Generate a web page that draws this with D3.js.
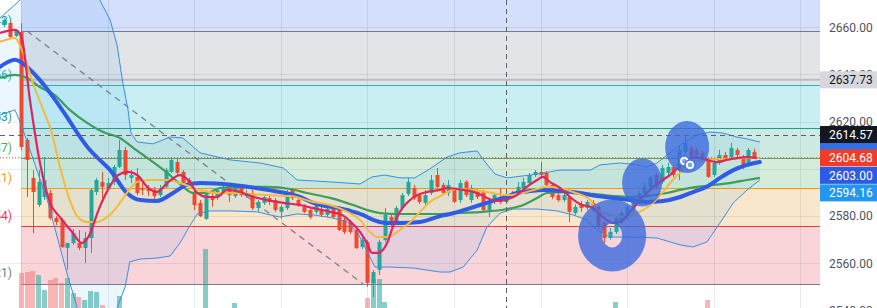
<!DOCTYPE html>
<html><head><meta charset="utf-8">
<script src="https://cdn.jsdelivr.net/npm/d3@7"></script>
<style>html,body{margin:0;padding:0;background:#fff;overflow:hidden}text{font-family:Roboto,"Liberation Sans",sans-serif}</style>
</head><body><svg id="c" width="877" height="308"></svg>
<script>
// ---------- DATA ----------
// candles: [open, high, low, close], one per bar index
const candles = [
[2661.0,2663.9,2660.1,2663.1],[2661.8,2662.3,2655.5,2655.9],[2656.3,2659.3,2655.9,2658.9],[2658.0,2661.8,2608.0,2609.3],
[2612.2,2613.1,2588.1,2603.8],[2596.2,2599.5,2572.8,2590.2],[2584.7,2599.5,2583.9,2594.5],[2588.1,2605.0,2586.8,2595.3],
[2589.8,2591.1,2578.4,2579.2],[2579.2,2580.0,2576.2,2577.5],[2578.4,2579.2,2566.5,2566.9],[2566.5,2568.6,2557.2,2568.6],
[2568.6,2574.5,2567.8,2572.8],[2568.6,2574.1,2565.6,2566.5],[2566.5,2573.3,2560.1,2570.7],[2570.7,2591.9,2564.4,2591.1],
[2590.2,2596.2,2588.9,2595.3],[2594.5,2598.7,2587.7,2592.4],[2591.9,2596.2,2591.1,2594.0],[2594.5,2601.7,2593.2,2600.8],
[2600.8,2612.2,2600.4,2608.0],[2608.0,2609.3,2595.3,2597.4],[2596.2,2599.5,2594.0,2597.4],[2596.6,2600.4,2588.9,2589.8],
[2591.9,2594.0,2588.9,2591.1],[2591.5,2593.2,2588.5,2590.6],[2591.1,2592.4,2585.6,2588.5],[2588.9,2593.2,2588.1,2591.5],
[2592.4,2600.4,2591.9,2599.5],[2598.7,2605.0,2598.3,2603.8],[2602.9,2604.6,2597.4,2598.3],[2598.7,2599.5,2593.2,2594.0],
[2595.3,2596.2,2593.2,2594.0],[2590.2,2591.1,2582.6,2584.7],[2585.6,2586.8,2579.6,2580.0],[2578.8,2591.1,2578.4,2589.8],
[2588.1,2590.2,2583.9,2586.8],[2588.1,2591.9,2586.8,2591.1],[2590.2,2593.6,2589.4,2592.4],[2592.8,2593.6,2586.0,2588.9],
[2588.5,2593.2,2587.7,2592.4],[2592.4,2593.2,2588.1,2588.9],[2588.5,2591.1,2587.7,2589.8],[2589.8,2591.1,2582.6,2583.4],
[2583.4,2586.8,2581.8,2586.0],[2585.6,2588.9,2584.7,2588.1],[2587.7,2588.5,2584.7,2586.0],[2586.8,2587.7,2581.8,2582.6],
[2581.8,2584.7,2578.8,2583.9],[2583.4,2591.1,2582.6,2589.8],[2591.1,2591.9,2586.8,2587.7],[2586.8,2587.7,2583.9,2584.7],
[2583.9,2585.1,2581.3,2581.8],[2582.6,2583.4,2578.8,2579.6],[2581.8,2585.6,2580.9,2584.7],[2582.6,2583.9,2579.6,2580.5],
[2580.5,2583.9,2579.6,2583.0],[2583.4,2584.3,2578.8,2579.6],[2583.4,2584.3,2573.7,2574.1],[2578.4,2579.2,2572.4,2573.3],
[2577.5,2578.4,2572.4,2573.3],[2574.1,2575.0,2566.1,2566.5],[2566.9,2571.1,2566.1,2569.9],[2569.0,2569.9,2550.0,2551.7],
[2551.7,2557.2,2545.7,2556.3],[2557.2,2569.9,2555.0,2569.0],[2569.9,2583.4,2569.0,2580.5],[2579.6,2580.9,2575.8,2577.1],
[2577.5,2584.3,2576.7,2583.4],[2583.4,2589.8,2582.6,2588.9],[2589.4,2596.2,2588.5,2594.5],[2591.9,2593.2,2586.8,2587.7],
[2588.9,2589.8,2585.1,2586.0],[2585.6,2591.1,2584.7,2588.9],[2589.8,2597.4,2588.9,2595.3],[2597.4,2600.4,2591.5,2592.4],
[2593.2,2594.0,2588.9,2589.8],[2589.8,2595.3,2588.5,2593.2],[2591.1,2591.9,2585.6,2586.0],[2586.8,2595.3,2585.6,2594.0],
[2594.5,2595.3,2588.1,2588.9],[2586.8,2593.2,2585.6,2591.9],[2590.2,2591.5,2587.2,2588.1],[2590.2,2591.1,2581.3,2582.6],
[2582.6,2586.4,2579.6,2585.6],[2586.0,2589.8,2585.1,2588.9],[2588.1,2591.9,2585.1,2586.0],[2586.0,2589.8,2585.1,2588.9],
[2589.8,2590.6,2587.7,2588.5],[2589.8,2594.5,2588.9,2592.4],[2591.9,2596.2,2591.1,2594.5],[2594.0,2598.3,2593.2,2597.4],
[2597.4,2599.5,2596.6,2598.7],[2598.7,2602.9,2596.6,2597.4],[2598.3,2599.1,2592.4,2593.2],[2593.2,2594.0,2587.2,2588.1],
[2588.9,2589.8,2586.0,2586.8],[2586.8,2591.1,2586.0,2588.9],[2588.1,2588.9,2577.5,2581.8],[2581.3,2585.1,2580.5,2583.9],
[2585.1,2586.4,2581.8,2583.4],[2583.4,2586.8,2582.6,2586.0],[2585.6,2586.8,2581.8,2582.6],[2583.9,2584.7,2574.5,2575.4],
[2577.1,2577.9,2568.6,2570.7],[2570.7,2575.0,2569.9,2573.3],[2573.3,2580.0,2572.4,2579.2],[2577.5,2582.2,2576.7,2581.3],
[2579.6,2584.7,2578.8,2583.9],[2582.6,2587.7,2581.8,2586.8],[2586.0,2590.6,2585.1,2589.8],[2589.8,2594.0,2588.9,2592.4],
[2592.4,2597.0,2591.5,2596.2],[2597.4,2598.3,2591.5,2592.4],[2594.5,2601.7,2593.6,2600.4],[2598.3,2602.5,2597.4,2600.8],
[2600.8,2601.7,2596.6,2597.4],[2599.5,2610.1,2595.3,2608.0],[2607.2,2614.4,2605.9,2611.0],[2608.9,2609.7,2604.2,2605.0],
[2608.0,2608.9,2604.6,2605.9],[2606.8,2607.6,2602.9,2603.8],[2603.8,2604.6,2596.2,2596.6],[2597.4,2603.8,2596.6,2602.5],
[2602.5,2608.0,2601.7,2605.9],[2605.9,2607.2,2603.8,2604.6],[2605.0,2611.0,2604.2,2608.9],[2608.0,2608.9,2605.0,2605.9],
[2605.0,2605.9,2600.0,2600.8],[2601.7,2608.9,2600.8,2608.0],[2607.2,2608.5,2604.6,2604.68]
];
// volume (only visible bars)
const volIdx = [3,4,5,6,7,8,9,10,11,12,13,14,15,16,17,20,35,40,63,64,65,66,106,122];
const volVal = [59,61,63,56,31,47,51,42,51,25,19,14,29,27,5,20,100,8,17,49,49,10,10,14];
// moving averages: [bar index, price]
const maRed = [[-0.7,2657.6],[1.9,2658.9],[3.0,2656.3],[4.5,2629.2],[6.2,2603.0],[8.0,2585.5],[9.7,2579.6],[11.8,2573.3],[13.5,2568.6],[14.6,2571.1],[16.6,2583.9],[18.4,2592.8],[19.8,2597.4],[21.5,2598.7],[23.1,2597.4],[24.8,2592.4],[26.5,2590.2],[28.3,2594.0],[30.5,2597.4],[31.9,2595.3],[33.5,2589.8],[35.2,2588.1],[36.9,2588.1],[38.7,2591.1],[40.9,2590.2],[43.2,2588.1],[45.6,2586.8],[48.4,2585.6],[51.3,2584.7],[53.6,2583.4],[56.5,2581.8],[58.6,2580.5],[60.3,2577.1],[61.7,2573.3],[62.9,2568.6],[63.8,2564.4],[64.8,2564.4],[66.4,2568.6],[67.4,2575.4],[68.6,2581.8],[70.0,2586.0],[71.6,2588.9],[73.3,2590.2],[75.6,2591.1],[76.8,2591.9],[79.6,2591.1],[82.0,2589.8],[83.7,2587.7],[85.4,2586.4],[86.8,2586.8],[88.9,2588.9],[90.6,2592.4],[92.4,2595.3],[93.4,2596.6],[94.6,2594.5],[96.4,2591.9],[98.1,2588.1],[99.8,2585.1],[102.1,2583.4],[103.8,2579.6],[105.6,2577.1],[106.8,2577.5],[108.5,2581.8],[110.2,2586.8],[112.0,2591.1],[113.7,2594.5],[115.4,2597.4],[116.8,2600.4],[118.4,2603.8],[119.8,2605.0],[121.8,2603.8],[123.6,2602.9],[125.3,2603.8],[127.0,2604.6],[128.8,2605.0],[130.5,2604.6]];
const maOrange = [[-0.7,2653.8],[1.9,2655.5],[3.1,2650.4],[5.0,2636.4],[6.8,2625.0],[8.3,2615.2],[9.7,2600.8],[11.4,2586.8],[12.8,2579.6],[14.4,2577.5],[16.1,2577.5],[17.9,2579.6],[19.6,2583.9],[21.3,2589.8],[23.1,2594.5],[25.3,2595.3],[28.3,2595.3],[30.5,2594.0],[34.0,2591.1],[36.9,2589.8],[39.7,2589.8],[45.6,2588.9],[49.6,2588.5],[53.6,2586.0],[56.5,2584.7],[59.5,2581.8],[61.7,2578.4],[63.4,2573.3],[64.8,2571.1],[66.4,2571.1],[68.6,2574.1],[70.4,2577.5],[72.1,2581.8],[73.8,2586.0],[75.6,2588.5],[78.5,2591.5],[81.3,2591.1],[83.7,2590.2],[85.4,2589.4],[87.7,2588.9],[90.0,2589.8],[92.4,2591.5],[94.1,2592.4],[96.4,2591.9],[98.6,2590.2],[101.6,2586.8],[102.8,2582.6],[105.0,2580.5],[107.3,2579.6],[109.7,2581.3],[112.5,2585.6],[114.2,2590.2],[115.9,2595.3],[117.7,2599.5],[118.9,2602.5],[121.2,2603.8],[123.6,2604.2],[125.8,2604.2],[128.8,2604.6],[131.0,2604.6]];
const maBlue = [[-0.7,2643.2],[1.9,2646.2],[4.0,2643.2],[6.2,2637.7],[8.5,2630.5],[10.9,2622.0],[13.2,2613.5],[14.9,2608.0],[16.6,2603.8],[18.4,2599.5],[21.3,2589.8],[23.6,2586.8],[26.5,2586.4],[29.3,2589.8],[31.7,2593.2],[34.0,2594.0],[39.7,2593.2],[45.6,2591.1],[51.3,2588.1],[53.6,2585.6],[59.5,2582.6],[62.2,2580.5],[64.0,2578.4],[66.4,2577.1],[68.6,2577.1],[72.1,2577.5],[75.6,2580.0],[77.3,2580.9],[80.8,2583.4],[84.2,2586.0],[86.5,2587.7],[88.9,2589.8],[91.2,2590.6],[93.4,2591.1],[96.9,2590.6],[99.8,2589.8],[102.8,2588.5],[105.6,2587.7],[108.5,2586.8],[111.4,2586.0],[114.2,2586.4],[117.2,2588.1],[119.4,2590.2],[121.8,2592.4],[124.1,2596.2],[126.4,2599.5],[128.8,2601.7],[131.0,2602.9]];
const maGreen = [[-0.7,2638.5],[1.9,2639.8],[4.0,2638.5],[6.2,2634.7],[8.8,2631.3],[11.4,2625.0],[14.4,2619.5],[17.2,2615.6],[20.1,2613.1],[22.4,2608.9],[25.3,2603.8],[28.3,2598.3],[30.5,2593.6],[32.8,2589.8],[35.2,2589.8],[37.4,2591.9],[42.1,2592.4],[45.6,2592.4],[49.6,2591.5],[52.5,2589.8],[56.5,2587.7],[60.5,2584.7],[62.9,2582.6],[65.2,2581.3],[68.6,2580.9],[75.6,2580.9],[78.5,2581.3],[83.0,2581.8],[87.2,2583.0],[90.0,2584.7],[92.4,2587.7],[94.1,2589.8],[96.9,2590.2],[99.8,2589.8],[102.1,2589.4],[105.6,2588.5],[108.5,2588.1],[111.4,2588.5],[114.9,2589.8],[117.2,2591.1],[120.1,2592.4],[122.9,2593.2],[125.8,2594.0],[128.8,2595.3],[131.0,2596.2]];
const bbUpper = [[-0.7,2663.9],[2.8,2671.6],[5.4,2690.6],[9.7,2697.0],[14.0,2686.4],[16.6,2671.6],[18.4,2663.1],[19.6,2652.5],[20.6,2636.4],[21.5,2625.0],[22.0,2615.2],[23.1,2611.4],[25.8,2610.6],[28.8,2613.5],[31.0,2613.1],[34.0,2606.8],[39.2,2603.8],[44.4,2602.5],[48.4,2600.4],[50.8,2595.3],[56.5,2594.5],[61.7,2593.6],[63.8,2596.6],[66.0,2597.4],[68.6,2596.2],[71.2,2596.2],[73.8,2600.0],[76.8,2605.0],[79.0,2606.8],[82.0,2607.6],[83.4,2602.9],[85.1,2597.8],[87.2,2596.2],[91.2,2597.4],[96.4,2599.5],[101.6,2599.5],[103.3,2601.7],[106.8,2602.5],[109.7,2601.7],[111.4,2600.8],[113.2,2602.5],[115.4,2606.8],[117.7,2611.0],[120.1,2614.4],[122.4,2615.6],[124.6,2615.2],[127.0,2613.5],[128.8,2612.7],[131.0,2611.4]];
const bbLower = [[-0.7,2622.8],[1.9,2625.0],[3.0,2618.6],[7.5,2586.8],[10.9,2555.9],[12.7,2541.1],[14.9,2527.5],[17.5,2531.7],[19.6,2541.1],[21.0,2550.0],[21.8,2560.6],[23.6,2561.8],[26.5,2562.2],[28.8,2563.1],[30.5,2568.6],[32.2,2575.8],[33.5,2580.9],[35.7,2582.2],[39.2,2582.2],[43.9,2581.8],[46.1,2580.5],[47.8,2579.6],[50.8,2580.9],[53.6,2580.5],[57.0,2579.2],[59.5,2577.5],[61.2,2573.3],[62.2,2568.6],[63.4,2562.7],[64.3,2558.4],[66.9,2558.4],[70.9,2558.0],[75.6,2556.3],[77.3,2556.3],[79.6,2558.4],[82.0,2565.6],[83.7,2575.4],[86.0,2581.3],[88.2,2583.0],[92.4,2583.0],[95.9,2582.2],[98.6,2580.5],[101.0,2578.4],[102.8,2574.1],[105.0,2571.1],[109.7,2571.1],[113.2,2570.7],[117.2,2567.8],[119.4,2566.9],[121.8,2569.0],[124.1,2577.1],[126.4,2585.6],[128.8,2591.1],[131.0,2595.3]];
// fibonacci drawing
const fibStartIdx = 3;
const fibBandEdges = [2680, 2658.4, 2635.5, 2617.4, 2604.6, 2591.9, 2575.8, 2551.3];
const fibLevels = [2658.4, 2635.5, 2617.4, 2604.6, 2591.9, 2575.8, 2551.3];
const fibLabels = ["1(2658.43)","0.786(2635.56)","0.618(2617.53)","0.5(2604.37)","0.382(2591.21)","0.236(2575.54)","0(2551.21)"];
const hLinePrice = 2637.73;
const trendLine = [[4.0,2658.4],[62.2,2551.3]];
const crossIdx = 87, crossPrice = 2614.57, lastPrice = 2604.68;
const gridTicks = [2540,2560,2580,2600,2620,2640,2660];
const axisLabelTicks = [2540,2560,2580,2620,2640,2660];
const gridIdx = [3,18,33,48,63,78,93,108,123,138];
const tagValues = [2637.73, 2614.57, 2604.68, 2603.00, 2594.16];
const hiddenTagValue = 2607.65;
// hand-drawn highlight marks, in [bar index, price]
const blobTop = [118.4, 2609.3], blobMid = [110.6, 2594.2], blobLow = [105.4, 2571.8];
const handles = [[117.9, 2603.3],[118.9, 2601.7]];

// ---------- STYLES ----------
const bandFills = ["#d3dffb","#e3e4e7","#c9eff3","#cdeae3","#d6ecda","#f8e7cd","#f9d5da"];
const fibColors = ["#2a9fb0","#26b5c4","#1f9c8c","#4caf50","#ff9800","#f23645","#787b86"];
const fibLineColors = ["#787b86","#26b5c4","#1f9c8c","#4caf50","#ff9800","#f23645","#787b86"];
const tagStyle = [["#d6d8dd","#131722"],["#131722","#ffffff"],["#f23c2a","#ffffff"],["#2d5be3","#ffffff"],["#2196f3","#ffffff"]];
const UP="#26a69a", DOWN="#f04a2c";

// ---------- SCALES ----------
const PR = 820;
const x = d3.scaleLinear().domain([0,130]).range([3.98,754.08]);
const y = d3.scaleLinear().domain([2540,2660]).range([310.5,27.3]);
const vy = d3.scaleLinear().domain([0,100]).range([308,249]);

const svg = d3.select("#c");
svg.append("defs").append("clipPath").attr("id","plot").append("rect").attr("x",0).attr("y",0).attr("width",PR).attr("height",308);
const g = svg.append("g").attr("clip-path","url(#plot)");
const x0 = x(fibStartIdx);

// bands
for(let k=0;k<bandFills.length;k++){
  g.append("rect").attr("x",x0).attr("width",PR-x0)
   .attr("y",y(fibBandEdges[k])).attr("height",y(fibBandEdges[k+1])-y(fibBandEdges[k]))
   .attr("fill",bandFills[k]).attr("shape-rendering","crispEdges");
}
// grid
gridTicks.forEach(t=>g.append("line").attr("x1",0).attr("x2",PR).attr("y1",Math.round(y(t))+0.5).attr("y2",Math.round(y(t))+0.5).attr("stroke","rgba(42,46,57,0.09)"));
gridIdx.forEach(i=>g.append("line").attr("y1",0).attr("y2",308).attr("x1",Math.round(x(i))+0.5).attr("x2",Math.round(x(i))+0.5).attr("stroke","rgba(42,46,57,0.1)"));
// fib lines
fibLevels.forEach((v,k)=>g.append("line").attr("x1",x0).attr("x2",PR).attr("y1",Math.round(y(v))+0.5).attr("y2",Math.round(y(v))+0.5).attr("stroke",fibLineColors[k]).attr("stroke-width",1.2));
g.append("line").attr("x1",x0).attr("x2",PR).attr("y1",y(hLinePrice)).attr("y2",y(hLinePrice)).attr("stroke","#b9bcc4").attr("stroke-width",2);
// left fib labels
fibLevels.forEach((v,k)=>g.append("text").attr("x",12).attr("y",y(v)-6.5).attr("text-anchor","end").attr("font-size",12).attr("fill",fibColors[k]).text(fibLabels[k]));

// bollinger fill
const lin = d3.line().x(d=>x(d[0])).y(d=>y(d[1]));
g.append("path").attr("d",lin(bbUpper.concat(bbLower.slice().reverse()))+"Z").attr("fill","rgba(33,150,243,0.09)");

// volume
volIdx.forEach((i,k)=>{
  const c=candles[i]; const up=c[3]>=c[0];
  g.append("rect").attr("x",x(i)-2.5).attr("width",5).attr("y",vy(volVal[k])).attr("height",308-vy(volVal[k]))
   .attr("fill",up?"rgba(38,166,154,0.55)":"rgba(242,110,110,0.5)").attr("shape-rendering","crispEdges");
});

// trend line
g.append("path").attr("d",lin(trendLine)).attr("stroke","#7d7f88").attr("stroke-width",1.3).attr("stroke-dasharray","6,5").attr("fill","none");

// candles
candles.forEach((c,i)=>{
  const up=c[3]>=c[0], col=up?UP:DOWN, cx=Math.round(x(i))+0.5;
  g.append("line").attr("x1",cx).attr("x2",cx).attr("y1",y(c[1])).attr("y2",y(c[2])).attr("stroke",col).attr("stroke-width",1);
  const t=y(Math.max(c[0],c[3])), b=y(Math.min(c[0],c[3]));
  g.append("rect").attr("x",cx-2).attr("width",4).attr("y",t).attr("height",Math.max(1,b-t)).attr("fill",col);
});

// lines
const curve = d3.line().x(d=>x(d[0])).y(d=>y(d[1])).curve(d3.curveMonotoneX);
g.append("path").attr("d",lin(bbUpper)).attr("stroke","#3b8ee3").attr("stroke-width",1).attr("fill","none");
g.append("path").attr("d",lin(bbLower)).attr("stroke","#3b8ee3").attr("stroke-width",1).attr("fill","none");
g.append("path").attr("d",curve(maGreen)).attr("stroke","#3d9d5b").attr("stroke-width",2.2).attr("fill","none");
g.append("path").attr("d",curve(maBlue)).attr("stroke","#2f5ce6").attr("stroke-width",4).attr("fill","none").attr("stroke-linecap","round");
g.append("path").attr("d",curve(maOrange)).attr("stroke","#f6b93b").attr("stroke-width",2).attr("fill","none");
g.append("path").attr("d",curve(maRed)).attr("stroke","#e3245c").attr("stroke-width",2.2).attr("fill","none");

// price line & crosshair
g.append("line").attr("x1",0).attr("x2",PR).attr("y1",y(lastPrice)).attr("y2",y(lastPrice)).attr("stroke","#f23645").attr("stroke-dasharray","1,2");
g.append("line").attr("x1",0).attr("x2",PR).attr("y1",Math.round(y(crossPrice))+0.5).attr("y2",Math.round(y(crossPrice))+0.5).attr("stroke","#5d606b").attr("stroke-dasharray","5,4");
g.append("line").attr("y1",0).attr("y2",308).attr("x1",Math.round(x(crossIdx))+0.5).attr("x2",Math.round(x(crossIdx))+0.5).attr("stroke","#5d606b").attr("stroke-dasharray","5,4");

// hand-drawn highlight
const hb = g.append("g").attr("opacity",0.78);
const BC = "#3a68df";
hb.append("ellipse").attr("cx",x(blobTop[0])).attr("cy",y(blobTop[1])).attr("rx",22).attr("ry",26).attr("fill",BC);
hb.append("ellipse").attr("cx",x(blobMid[0])).attr("cy",y(blobMid[1])).attr("rx",10).attr("ry",14).attr("fill","none").attr("stroke",BC).attr("stroke-width",20);
hb.append("ellipse").attr("cx",x(blobLow[0])).attr("cy",y(blobLow[1])).attr("rx",22).attr("ry",24).attr("fill","none").attr("stroke",BC).attr("stroke-width",24);
handles.forEach(h=>{
  g.append("circle").attr("cx",x(h[0])).attr("cy",y(h[1])).attr("r",5).attr("fill","#fff").attr("stroke","#4a78e0").attr("stroke-width",1.5);
  g.append("circle").attr("cx",x(h[0])).attr("cy",y(h[1])).attr("r",2.3).attr("fill","#7fa0ec");
});

// right axis
svg.append("rect").attr("x",PR).attr("y",0).attr("width",877-PR).attr("height",308).attr("fill","#fff");
axisLabelTicks.forEach(t=>svg.append("text").attr("x",829).attr("y",y(t)+4.3).attr("font-size",12).attr("fill","#4f525c").text(d3.format(".2f")(t)));
// partially hidden tag (only its top edge shows)
svg.append("rect").attr("x",PR).attr("y",y(hiddenTagValue)-8.5).attr("width",877-PR).attr("height",17).attr("fill","#2f6fe8");
// tags (resolve overlaps downward)
let prevBottom=-1e9;
tagValues.forEach((v,k)=>{
  let cy=y(v); const h=17;
  if(cy-h/2<prevBottom+0.5) cy=prevBottom+0.5+h/2;
  prevBottom=cy+h/2;
  svg.append("rect").attr("x",PR).attr("y",cy-h/2).attr("width",877-PR).attr("height",h).attr("fill",tagStyle[k][0]);
  svg.append("text").attr("x",829).attr("y",cy+4.3).attr("font-size",12).attr("fill",tagStyle[k][1]).text(d3.format(".2f")(v));
});
</script></body></html>
